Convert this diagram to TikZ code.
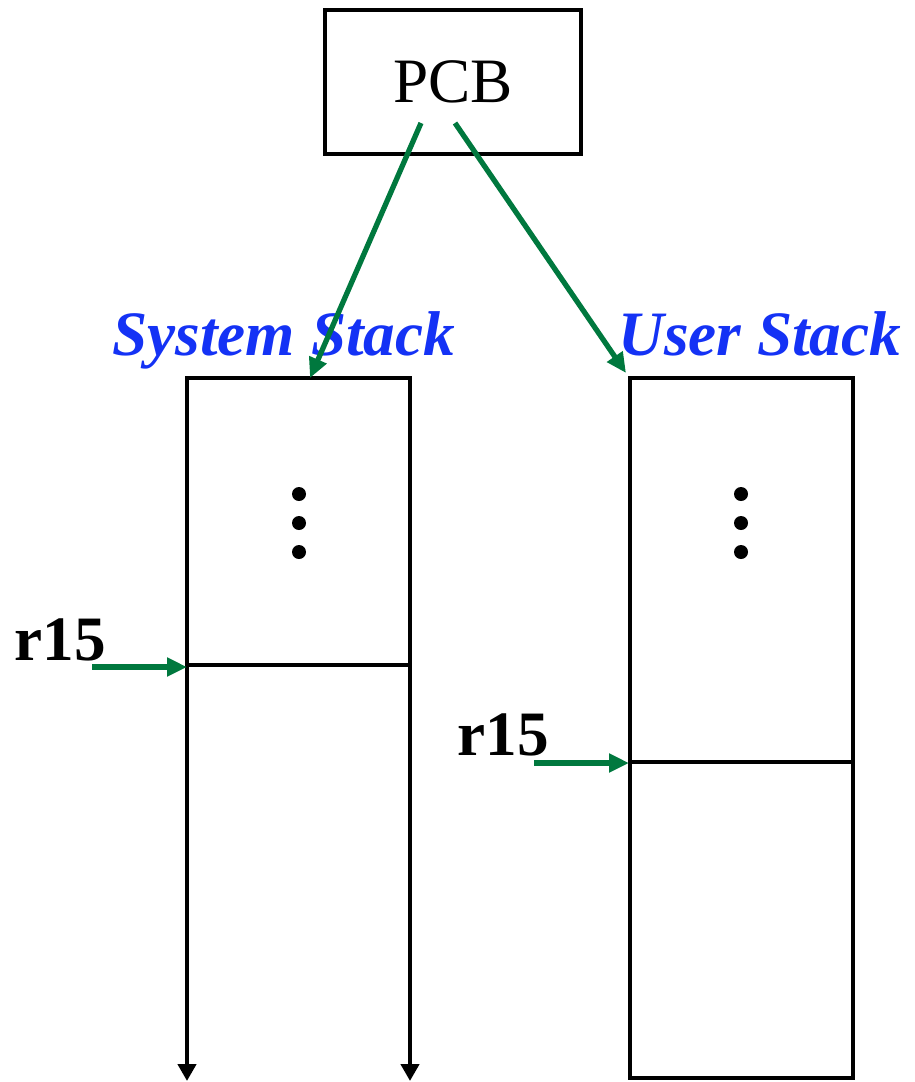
\documentclass[tikz,border=0pt]{standalone}
\usepackage{fontspec}
\setmainfont{Liberation Serif}
\usetikzlibrary{arrows.meta}
\definecolor{ptrgreen}{RGB}{0,120,62}
\definecolor{stackblue}{RGB}{20,50,245}

\begin{document}
\begin{tikzpicture}[x=0.02cm,y=-0.02cm,line width=2.8pt,
    ptr/.style={ptrgreen,line width=3pt,-{Triangle[length=0.4cm,width=0.36cm]}},
    down/.style={{Triangle[length=0.34cm,width=0.36cm]}-{Triangle[length=0.34cm,width=0.36cm]}},
    title/.style={stackblue,font=\fontsize{36}{40}\selectfont\bfseries\itshape,inner sep=0pt,anchor=base west},
    reg/.style={font=\fontsize{36}{40}\selectfont\bfseries,inner sep=0pt,anchor=base west}
  ]
  \useasboundingbox (0,0) rectangle (914,1082);

  \node[draw,minimum width=5.12cm,minimum height=2.88cm,
        font=\fontsize{36}{40}\selectfont] (pcb) at (453,82) {PCB};
  \coordinate (pcbL) at (421,123);
  \coordinate (pcbR) at (455,123);

  % system stack, open at the bottom
  \draw[down] (187,1081) -- (187,378) -- (410,378) -- (410,1081);
  \draw (187,665) -- (410,665);
  \coordinate (sysTop) at (310,378);
  \coordinate (sysSP) at (187,667);

  % user stack
  \draw (630,378) rectangle (853,1078);
  \draw (630,762) -- (853,762);
  \coordinate (usrTop) at (626,373);
  \coordinate (usrSP) at (629,763);

  \foreach \x in {299,741}
    \foreach \y in {494,523,552}
      \fill (\x,\y) circle[radius=7];

  \node[title] (sysName) at (110,355) {System Stack};
  \node[title] (usrName) at (616,355) {User Stack};
  \node[reg] (r15s) at (12,660) {r15};
  \node[reg] (r15u) at (455,755) {r15};
  \coordinate (r15sTail) at (92,667);
  \coordinate (r15uTail) at (534,763);

  \draw[ptr] (pcbL) -- (sysTop);
  \draw[ptr] (pcbR) -- (usrTop);
  \draw[ptr] (r15sTail) -- (sysSP);
  \draw[ptr] (r15uTail) -- (usrSP);
\end{tikzpicture}
\end{document}
